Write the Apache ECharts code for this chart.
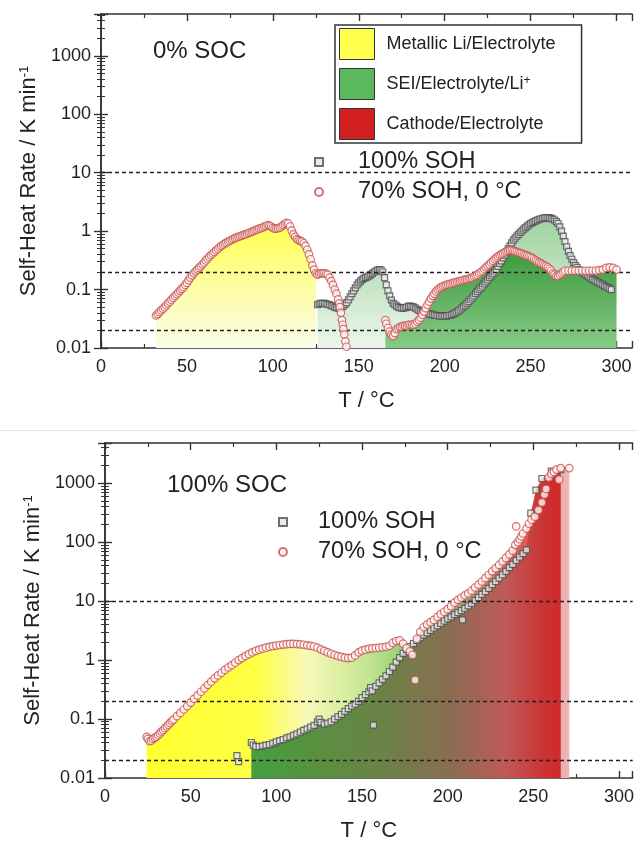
<!DOCTYPE html>
<html>
<head>
<meta charset="utf-8">
<title>Self-heat rate</title>
<script src="https://cdn.jsdelivr.net/npm/echarts@6/dist/echarts.min.js"></script>
<style>
html, body { margin: 0; padding: 0; background: #fff; }
#chart { width: 637px; height: 843px; }
</style>
</head>
<body>
<div id="chart"></div>
<script>
var FONT = '"Liberation Sans", Arial, Helvetica, sans-serif';

// ---- data: [T in °C, self-heat rate in K/min] ----
// top panel, 0% SOC
var top70a = [[32,0.036],[33,0.038],[34,0.041],[35,0.044],[36,0.047],[37,0.05],[38,0.054],[39,0.058],[40,0.062],[41,0.067],[42,0.072],[43,0.077],[44,0.083],[45,0.089],[46,0.096],[47,0.103],[48,0.11],[49,0.12],[50,0.13],[51,0.145],[52,0.16],[53,0.175],[54,0.19],[55,0.205],[56,0.22],[57,0.235],[58,0.25],[59,0.27],[60,0.29],[61,0.315],[62,0.34],[63,0.365],[64,0.39],[65,0.415],[66,0.44],[67,0.47],[68,0.5],[69,0.53],[70,0.56],[71,0.585],[72,0.61],[73,0.635],[74,0.66],[75,0.685],[76,0.71],[77,0.735],[78,0.76],[79,0.78],[80,0.8],[81,0.82],[82,0.84],[83,0.86],[84,0.88],[85,0.905],[86,0.93],[87,0.955],[88,0.98],[89,1.01],[90,1.04],[91,1.07],[92,1.1],[93,1.12],[94,1.15],[95,1.19],[96,1.22],[97,1.27],[98,1.24],[99,1.2],[100,1.14],[101,1.1],[102,1.1],[103,1.12],[104,1.15],[105,1.2],[106,1.27],[107,1.33],[108,1.38],[109,1.35],[110,1.2],[111,1.02],[112,0.88],[113,0.8],[114,0.73],[115,0.7],[116,0.68],[117,0.66],[118,0.62],[119,0.56],[120,0.48],[121,0.4],[122,0.33],[123,0.26],[124,0.22],[125,0.19],[126,0.18],[127,0.185],[128,0.19],[129,0.19],[130,0.19],[131,0.185],[132,0.18],[133,0.16],[134,0.14],[135,0.12],[136,0.1],[137,0.085],[138,0.068],[138.6,0.058],[139,0.05],[139.6,0.04],[140.2,0.03],[140.7,0.025],[141.1,0.021],[141.6,0.017],[142.2,0.013],[142.8,0.0105]];
var top70b = [[165.5,0.03],[166,0.026],[167,0.022],[168,0.019],[169,0.017],[170,0.016],[171,0.018],[172,0.021],[173,0.022],[174,0.023],[175,0.023],[176,0.024],[177,0.024],[178,0.024],[179,0.025],[180,0.025],[181,0.025],[182,0.025],[183,0.026],[184,0.028],[185,0.03],[186,0.033],[187,0.037],[188,0.042],[189,0.048],[190,0.055],[191,0.062],[192,0.07],[193,0.078],[194,0.085],[195,0.093],[196,0.1],[197,0.106],[198,0.11],[199,0.114],[200,0.117],[201,0.12],[202,0.122],[203,0.125],[204,0.127],[205,0.13],[206,0.132],[207,0.135],[208,0.138],[209,0.14],[210,0.143],[211,0.146],[212,0.148],[213,0.15],[214,0.153],[215,0.157],[216,0.16],[217,0.166],[218,0.172],[219,0.18],[220,0.19],[221,0.2],[222,0.21],[223,0.225],[224,0.24],[225,0.255],[226,0.27],[227,0.29],[228,0.31],[229,0.33],[230,0.35],[231,0.37],[232,0.39],[233,0.405],[234,0.42],[235,0.435],[236,0.45],[237,0.46],[238,0.47],[239,0.47],[240,0.46],[241,0.45],[242,0.44],[243,0.43],[244,0.42],[245,0.41],[246,0.4],[247,0.39],[248,0.38],[249,0.37],[250,0.36],[251,0.345],[252,0.33],[253,0.315],[254,0.3],[255,0.29],[256,0.28],[257,0.27],[258,0.26],[259,0.25],[260,0.24],[261,0.225],[262,0.21],[263,0.19],[264,0.18],[265,0.17],[266,0.17],[267,0.18],[268,0.19],[269,0.2],[270,0.21],[272,0.21],[274,0.21],[276,0.21],[278,0.21],[280,0.21],[282,0.21],[284,0.21],[286,0.21],[288,0.21],[290,0.215],[292,0.22],[294,0.235],[296,0.24],[298,0.235],[300,0.22]];
var top100 = [[126,0.055],[127,0.057],[128,0.058],[129,0.058],[130,0.058],[131,0.057],[132,0.056],[133,0.055],[134,0.053],[135,0.052],[136,0.05],[137,0.049],[138,0.048],[139,0.048],[140,0.05],[141,0.052],[142,0.056],[143,0.06],[144,0.067],[145,0.075],[146,0.085],[147,0.095],[148,0.107],[149,0.12],[150,0.13],[151,0.14],[152,0.148],[153,0.155],[154,0.16],[155,0.165],[156,0.172],[157,0.18],[158,0.19],[159,0.2],[160,0.207],[161,0.215],[162,0.22],[163,0.215],[164,0.2],[165,0.16],[166,0.12],[167,0.095],[168,0.078],[169,0.066],[170,0.058],[171,0.055],[172,0.052],[173,0.05],[174,0.049],[175,0.048],[176,0.048],[177,0.049],[178,0.05],[179,0.052],[180,0.052],[181,0.051],[182,0.05],[183,0.048],[184,0.046],[185,0.044],[186,0.043],[187,0.042],[188,0.041],[189,0.04],[190,0.039],[191,0.038],[192,0.038],[193,0.037],[194,0.037],[195,0.036],[196,0.036],[197,0.035],[198,0.035],[199,0.035],[200,0.035],[201,0.035],[202,0.036],[203,0.036],[204,0.037],[205,0.038],[206,0.039],[207,0.041],[208,0.043],[209,0.045],[210,0.048],[211,0.051],[212,0.054],[213,0.058],[214,0.062],[215,0.067],[216,0.072],[217,0.078],[218,0.085],[219,0.092],[220,0.1],[221,0.107],[222,0.115],[223,0.125],[224,0.135],[225,0.147],[226,0.16],[227,0.172],[228,0.185],[229,0.2],[230,0.22],[231,0.25],[232,0.28],[233,0.31],[234,0.35],[235,0.39],[236,0.44],[237,0.5],[238,0.56],[239,0.63],[240,0.7],[241,0.76],[242,0.82],[243,0.88],[244,0.95],[245,1.01],[246,1.08],[247,1.15],[248,1.22],[249,1.28],[250,1.35],[251,1.4],[252,1.45],[253,1.5],[254,1.55],[255,1.59],[256,1.63],[257,1.66],[258,1.68],[259,1.69],[260,1.7],[261,1.68],[262,1.65],[263,1.6],[264,1.55],[265,1.45],[266,1.35],[267,1.18],[268,1.0],[269,0.82],[270,0.66],[271,0.54],[272,0.45],[273,0.38],[274,0.33],[275,0.29],[276,0.26],[277,0.24],[278,0.22],[279,0.21],[280,0.2],[281,0.19],[282,0.18],[283,0.172],[284,0.165],[285,0.157],[286,0.15],[287,0.145],[288,0.14],[289,0.135],[290,0.13],[291,0.125],[292,0.12],[293,0.116],[294,0.112],[295,0.108],[296,0.105],[297,0.1]];

// bottom panel, 100% SOC
var bot70 = [[24.3,0.05],[25,0.046],[26,0.042],[27,0.043],[28,0.046],[29,0.048],[30,0.05],[31,0.053],[32,0.057],[33,0.061],[34,0.065],[35,0.07],[36,0.075],[37,0.08],[38,0.086],[39,0.092],[40,0.098],[42,0.112],[44,0.127],[46,0.145],[48,0.165],[50,0.19],[52,0.22],[54,0.25],[56,0.29],[58,0.33],[60,0.38],[62,0.43],[64,0.49],[66,0.55],[68,0.61],[70,0.68],[72,0.75],[74,0.82],[76,0.9],[78,1.0],[80,1.08],[82,1.17],[84,1.26],[86,1.35],[88,1.43],[90,1.5],[92,1.56],[94,1.62],[96,1.68],[98,1.72],[100,1.76],[102,1.8],[104,1.83],[106,1.86],[108,1.88],[110,1.88],[112,1.87],[114,1.85],[116,1.82],[118,1.78],[120,1.74],[122,1.7],[124,1.62],[126,1.52],[128,1.43],[130,1.35],[132,1.28],[134,1.22],[136,1.17],[138,1.13],[140,1.1],[142,1.08],[144,1.1],[146,1.2],[148,1.35],[150,1.45],[152,1.5],[154,1.55],[156,1.58],[158,1.6],[160,1.62],[162,1.65],[164,1.68],[166,1.75],[168,1.95],[170,2.1],[172,2.15],[174,1.9],[176,1.6],[178,1.4],[179.5,1.22],[182,2.3],[184,3.0],[186,3.6],[188,4.0],[190,4.4],[192,4.8],[194,5.4],[196,6.0],[198,6.6],[200,7.3],[202,8.2],[204,9.4],[206,10.5],[208,11.5],[210,12.5],[212,13.5],[214,15],[216,17],[218,19],[220,21.5],[222,24.5],[224,28],[226,32],[228,36],[230,41],[232,47],[234,54],[236,62],[238,72],[239.5,90],[241,100],[242,112],[243,125],[244,140],[246,170],[247.5,205],[249,240],[251,270],[253,350],[255,470],[256.5,640],[257.5,800],[259,1250],[260.5,1450],[262,1550],[263.5,1700],[266,1800],[271,1800]];
var bot70Outliers = [[181,0.46],[240,185],[265,1150]];
var bot100 = [[85.4,0.04],[86.5,0.036],[88,0.034],[90,0.034],[92,0.035],[94,0.036],[96,0.037],[98,0.039],[100,0.041],[102,0.043],[104,0.045],[106,0.048],[108,0.05],[110,0.053],[112,0.056],[114,0.06],[116,0.064],[118,0.068],[120,0.073],[122,0.078],[124,0.09],[125,0.1],[126,0.088],[128,0.082],[130,0.085],[132,0.09],[134,0.1],[136,0.11],[138,0.12],[140,0.135],[142,0.15],[144,0.165],[146,0.18],[148,0.2],[150,0.23],[152,0.26],[154,0.29],[155,0.34],[156,0.3],[158,0.36],[160,0.41],[162,0.47],[164,0.54],[166,0.64],[168,0.76],[170,0.92],[172,1.1],[174,1.3],[176,1.5],[178,1.7],[180,1.9],[182,2.15],[184,2.4],[186,2.65],[188,2.9],[190,3.2],[192,3.5],[194,3.8],[196,4.2],[198,4.6],[200,5.0],[202,5.4],[204,5.9],[206,6.4],[208,6.9],[210,7.5],[212,8.3],[214,9.2],[216,10.3],[218,11.5],[220,13],[222,14.5],[224,16.5],[226,19],[228,21.5],[230,24.5],[232,28],[234,32],[236,37],[238,42],[240,49],[242,56],[244,64],[246,74],[248.5,310],[251.5,760],[255,1200],[260.5,1600],[266,1700]];
var bot100Outliers = [[77,0.024],[78,0.019],[156.7,0.079],[208.7,4.8]];

// dashed reference levels, K/min
var refLevels = [10, 0.2, 0.02];
var regionNames = ['Metallic Li/Electrolyte', 'SEI/Electrolyte/Li+', 'Cathode/Electrolyte'];
var regionColors = ['#ffff4d', '#5cb85c', '#d21f1f'];
var sohNames = ['100% SOH', '70% SOH, 0 °C'];

var myChart = echarts.init(document.getElementById('chart'));
var G = echarts.graphic.LinearGradient;

var lineCol = '#333';
function xAxes(grid, max) {
    var common = {
        gridIndex: grid, type: 'value', min: 0, max: max, interval: 50,
        axisLine: { show: true, lineStyle: { color: lineCol, width: 1.6 } },
        axisTick: { inside: true, length: 7, lineStyle: { color: lineCol, width: 1.4 } },
        minorTick: { show: true, splitNumber: 2, length: 4, lineStyle: { color: lineCol, width: 1.2 } },
        splitLine: { show: false }
    };
    return [
        Object.assign({}, common, {
            position: 'bottom',
            axisLabel: { fontSize: 18, color: '#222', fontFamily: FONT, margin: 10,
                formatter: function (v) { return v % 50 === 0 ? String(v) : ''; } },
            name: 'T / °C', nameLocation: 'middle', nameGap: 42,
            nameTextStyle: { fontSize: 22, color: '#222', fontFamily: FONT }
        }),
        Object.assign({}, common, { position: 'top', axisLabel: { show: false } })
    ];
}
function yAxes(grid, max) {
    var common = {
        gridIndex: grid, type: 'log', logBase: 10, min: 0.01, max: max,
        axisLine: { show: true, lineStyle: { color: lineCol, width: 1.6 } },
        axisTick: { inside: true, length: 7, lineStyle: { color: lineCol, width: 1.4 } },
        minorTick: { show: true, splitNumber: 9, length: 4, lineStyle: { color: lineCol, width: 1 } },
        splitLine: { show: false }
    };
    return [
        Object.assign({}, common, {
            position: 'left',
            axisLabel: { fontSize: 18, color: '#222', fontFamily: FONT, margin: 10,
                formatter: function (v) {
                    var e = Math.log10(v);
                    return Math.abs(e - Math.round(e)) < 1e-6 ? String(+v.toPrecision(3)) : '';
                } },
            name: 'Self-Heat Rate / K min{sup|-1}', nameLocation: 'middle', nameGap: 58,
            nameTextStyle: { fontSize: 22, color: '#222', fontFamily: FONT,
                rich: { sup: { fontSize: 13, color: '#222', fontFamily: FONT, verticalAlign: 'top' } } }
        }),
        Object.assign({}, common, { position: 'right', axisLabel: { show: false } })
    ];
}

function fill(data, xi, color) {
    return {
        type: 'line', data: data, xAxisIndex: xi, yAxisIndex: xi,
        symbol: 'none', showSymbol: false, silent: true, z: 1,
        lineStyle: { width: 0, opacity: 0 },
        areaStyle: { color: color, opacity: 1, origin: 'start' }
    };
}
function dots(name, data, xi, symbol) {
    var sq = symbol === 'rect';
    return {
        type: 'scatter', name: name, data: data, xAxisIndex: xi, yAxisIndex: xi,
        symbol: symbol, symbolSize: sq ? 6 : 7.5, silent: true, z: sq ? 4 : 5,
        itemStyle: sq ? { color: '#e6e6e6', borderColor: '#4d4d4d', borderWidth: 1.2 }
                      : { color: '#fff6f6', borderColor: '#c8504e', borderWidth: 1.2 }
    };
}
function dashes(xi) {
    return {
        type: 'line', data: [], xAxisIndex: xi, yAxisIndex: xi, silent: true, z: 3,
        markLine: {
            silent: true, symbol: ['none', 'none'], animation: false,
            label: { show: false },
            lineStyle: { type: [4, 3], color: '#222', width: 1.3 },
            data: refLevels.map(function (v) { return { yAxis: v }; })
        }
    };
}

var yellowTop = top70a.filter(function (p) { return p[0] <= 125.5; });

var series = [
    // top panel fills
    fill(top100, 0, new G(0, 0, 0, 1, [{ offset: 0, color: '#9fd29f' }, { offset: 1, color: '#ecf6ec' }])),
    fill(yellowTop, 0, new G(0, 0, 0, 1, [{ offset: 0, color: '#ffff50' }, { offset: 0.55, color: '#fdfda8' }, { offset: 1, color: '#fbfce9' }])),
    fill(top70b, 0, new G(0, 0, 0, 1, [{ offset: 0, color: '#3c9a3c' }, { offset: 1, color: '#88ca88' }])),
    dashes(0),
    dots(sohNames[0], top100, 0, 'rect'),
    dots(sohNames[1], top70a.concat(top70b), 0, 'circle'),
    // bottom panel fills
    fill(bot70, 2, new G(0, 0, 1, 0, [
        { offset: 0, color: '#ffff30' }, { offset: 0.26, color: '#ffff45' }, { offset: 0.38, color: '#f8f9b8' },
        { offset: 0.52, color: '#c4e692' }, { offset: 0.62, color: '#8fcb72' }, { offset: 0.76, color: '#a9a070' },
        { offset: 0.9, color: '#dc5a5a' }, { offset: 0.955, color: '#d63636' }, { offset: 0.97, color: '#e9a6a6' },
        { offset: 1, color: '#eeb8b8' }])),
    fill(bot100, 2, new G(0, 0, 1, 0, [
        { offset: 0, color: '#44a040' }, { offset: 0.2, color: '#58913f' }, { offset: 0.45, color: '#6e8048' },
        { offset: 0.65, color: '#8c6c52' }, { offset: 0.82, color: '#bf5a58' }, { offset: 0.95, color: '#cc3232' },
        { offset: 1, color: '#cf2a2a' }])),
    dashes(2),
    dots(sohNames[0], bot100.concat(bot100Outliers), 2, 'rect'),
    dots(sohNames[1], bot70.concat(bot70Outliers), 2, 'circle')
];
// empty series that only carry the names of the reaction-region legend
regionNames.forEach(function (n) {
    series.push({ type: 'line', name: n, data: [], xAxisIndex: 0, yAxisIndex: 0 });
});

var titleStyle = { fontSize: 24, fontWeight: 'normal', color: '#222', fontFamily: FONT };
var sohLegend = {
    orient: 'vertical', selectedMode: false, padding: 0, itemWidth: 8, itemHeight: 8, itemGap: 4,
    data: sohNames,
    textStyle: { fontSize: 23.5, color: '#222', fontFamily: FONT, lineHeight: 26, padding: [0, 0, 0, 30] }
};

myChart.setOption({
    animation: false,
    backgroundColor: '#fff',
    title: [
        { text: '0% SOC', left: 153, top: 39, padding: 0, textStyle: titleStyle },
        { text: '100% SOC', left: 167, top: 473, padding: 0, textStyle: titleStyle }
    ],
    legend: [
        {
            left: 335, top: 25, orient: 'vertical', selectedMode: false, icon: 'rect',
            itemWidth: 35, itemHeight: 31, itemGap: 8, padding: [3, 26, 3, 4],
            borderColor: '#333', borderWidth: 1.5, backgroundColor: '#fff',
            data: regionNames.map(function (n, i) {
                return { name: n, icon: 'rect', itemStyle: { color: regionColors[i], borderColor: '#333', borderWidth: 1 } };
            }),
            formatter: function (n) { return n === 'SEI/Electrolyte/Li+' ? 'SEI/Electrolyte/Li{sup|+}' : n; },
            textStyle: { fontSize: 18, color: '#222', fontFamily: FONT, padding: [0, 0, 0, 7],
                rich: { sup: { fontSize: 12, color: '#222', fontFamily: FONT, verticalAlign: 'top' } } }
        },
        Object.assign({}, sohLegend, { left: 314, top: 149 }),
        Object.assign({}, sohLegend, { left: 278, top: 509,
            textStyle: Object.assign({}, sohLegend.textStyle, { padding: [0, 0, 0, 26] }) })
    ],
    grid: [
        { left: 101, top: 14, width: 531, height: 334 },
        { left: 105, top: 443, width: 528, height: 335 }
    ],
    xAxis: xAxes(0, 309).concat(xAxes(1, 308)),
    yAxis: yAxes(0, 5200).concat(yAxes(1, 4800)),
    // faint separator between the two pasted panels
    graphic: [{ type: 'rect', left: 0, top: 430, shape: { width: 637, height: 1 }, style: { fill: '#e2e2e2' }, silent: true }],
    series: series
});
</script>
</body>
</html>
